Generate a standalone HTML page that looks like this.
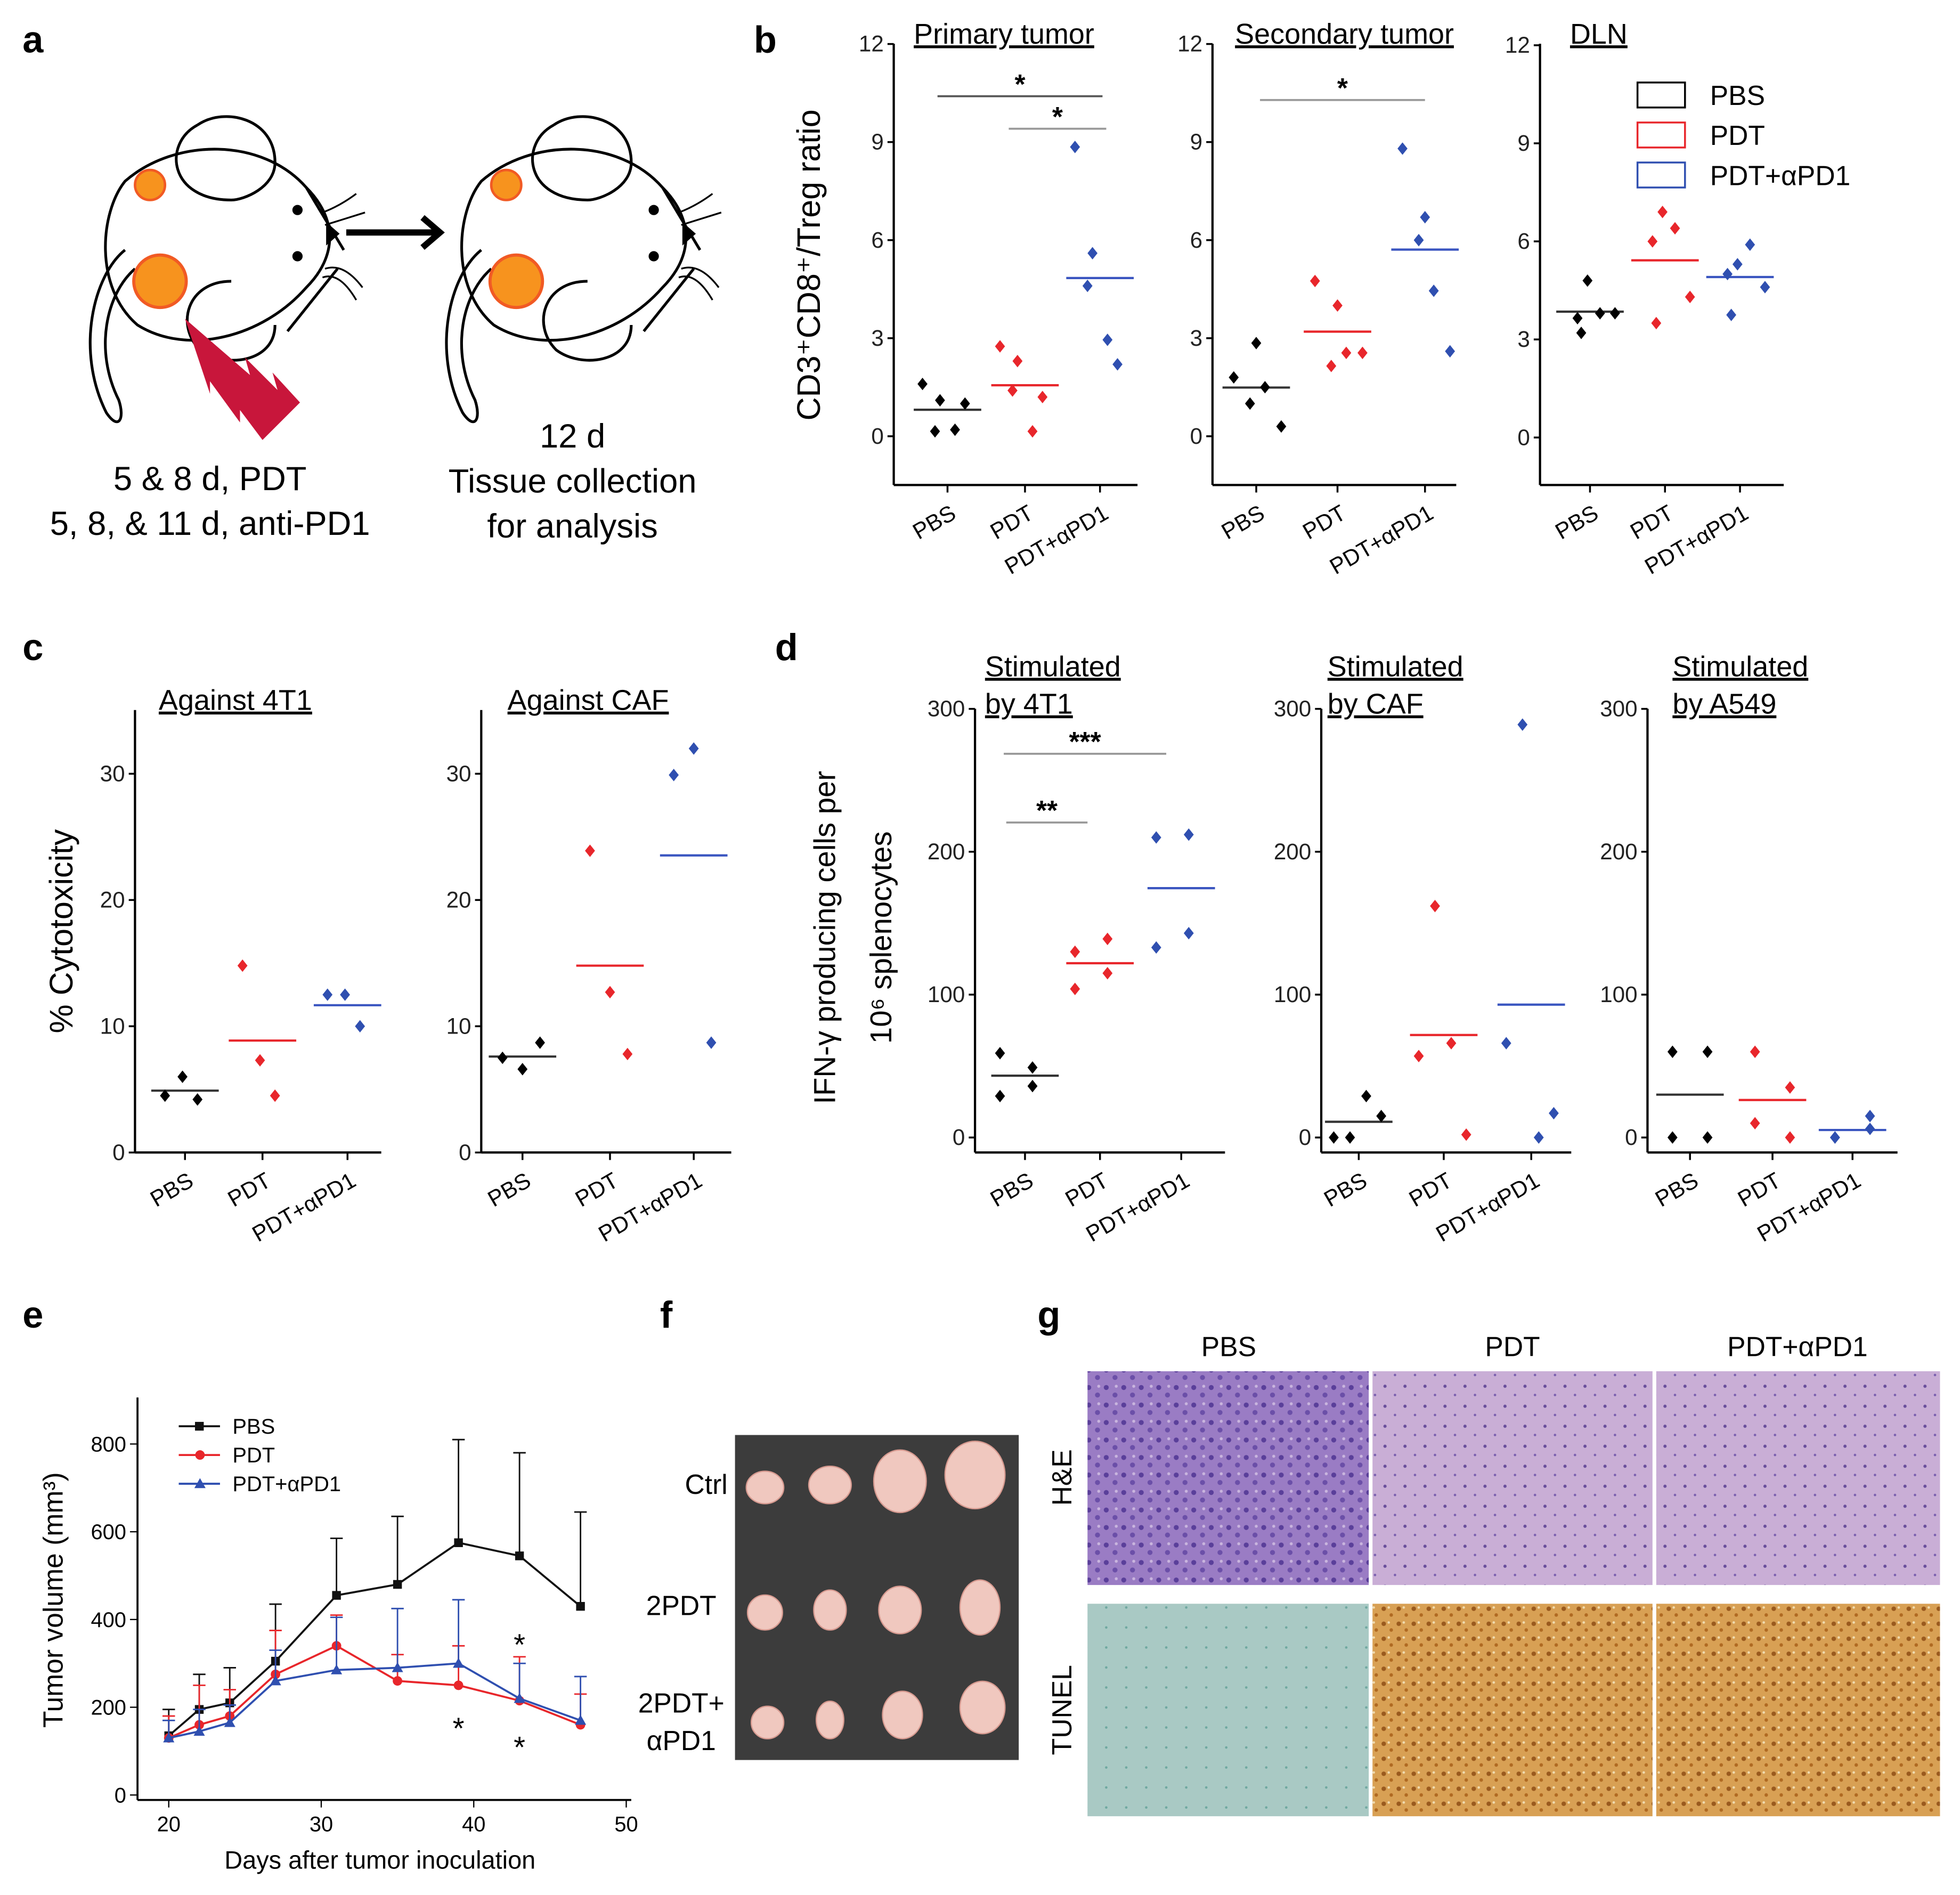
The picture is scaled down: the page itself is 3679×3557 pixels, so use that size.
<!DOCTYPE html>
<html><head><meta charset="utf-8">
<style>
html,body{margin:0;padding:0;background:#fff;}
svg{display:block;font-family:"Liberation Sans",Arial,sans-serif;}
</style></head>
<body>
<svg id="fig" width="3679" height="3557" viewBox="0 0 1568 1516" xmlns="http://www.w3.org/2000/svg">
<defs>
<pattern id="he1" width="14" height="14" patternUnits="userSpaceOnUse"><rect width="14" height="14" fill="#9a7cc4"/><circle cx="3" cy="4" r="2" fill="#5a3f9a"/><circle cx="10" cy="10" r="2" fill="#6b4fa8"/><circle cx="11" cy="3" r="1.2" fill="#c9b5de"/></pattern>
<pattern id="he2" width="16" height="16" patternUnits="userSpaceOnUse"><rect width="16" height="16" fill="#c9aed6"/><circle cx="4" cy="5" r="1.3" fill="#6a4f9c"/><circle cx="12" cy="12" r="1" fill="#7a5fae"/></pattern>
<pattern id="tu1" width="16" height="16" patternUnits="userSpaceOnUse"><rect width="16" height="16" fill="#a9c9c4"/><circle cx="5" cy="6" r="1" fill="#6fa8a0"/></pattern>
<pattern id="tu2" width="12" height="12" patternUnits="userSpaceOnUse"><rect width="12" height="12" fill="#d8a054"/><circle cx="3" cy="3" r="1.8" fill="#9a5a1e"/><circle cx="9" cy="8" r="1.4" fill="#b06a22"/><circle cx="7" cy="2" r="1" fill="#f1dcb0"/></pattern>
</defs>

<!-- Panel letters -->
<g font-weight="bold" font-size="30">
<text x="18" y="42">a</text>
<text x="603" y="42">b</text>
<text x="18" y="528">c</text>
<text x="620" y="528">d</text>
<text x="18" y="1062">e</text>
<text x="528" y="1062">f</text>
<text x="830" y="1062">g</text>
</g>

<!-- Panel a schematic -->
<g id="panelA" fill="none" stroke="#000" stroke-width="2.2">
</g>
<g font-size="27" text-anchor="middle">
<text x="168" y="392">5 &amp; 8 d, PDT</text>
<text x="168" y="428">5, 8, &amp; 11 d, anti-PD1</text>
<text x="458" y="358">12 d</text>
<text x="458" y="394">Tissue collection</text>
<text x="458" y="430">for analysis</text>
</g>

<g id="charts"></g>

<!-- Panel f photo -->
<g>
<text x="565" y="1195" font-size="22" text-anchor="middle">Ctrl</text>
<text x="545" y="1292" font-size="22" text-anchor="middle">2PDT</text>
<text x="545" y="1370" font-size="22" text-anchor="middle">2PDT+</text>
<text x="545" y="1400" font-size="22" text-anchor="middle">αPD1</text>
<rect x="588" y="1148" width="227" height="260" fill="#3c3c3c"/>
<g fill="#f0c8bf" stroke="#d79a90" stroke-width="1">
<ellipse cx="612" cy="1190" rx="15" ry="13"/><ellipse cx="664" cy="1188" rx="17" ry="15"/><ellipse cx="720" cy="1185" rx="21" ry="25"/><ellipse cx="780" cy="1180" rx="24" ry="27"/>
<ellipse cx="612" cy="1290" rx="14" ry="14"/><ellipse cx="664" cy="1288" rx="13" ry="16"/><ellipse cx="720" cy="1288" rx="17" ry="19"/><ellipse cx="784" cy="1286" rx="16" ry="22"/>
<ellipse cx="614" cy="1378" rx="13" ry="13"/><ellipse cx="664" cy="1376" rx="11" ry="15"/><ellipse cx="722" cy="1372" rx="16" ry="19"/><ellipse cx="786" cy="1366" rx="18" ry="21"/>
</g></g>

<!-- Panel g histology -->
<g>
<text x="983" y="1085" font-size="22" text-anchor="middle">PBS</text>
<text x="1210" y="1085" font-size="22" text-anchor="middle">PDT</text>
<text x="1438" y="1085" font-size="22" text-anchor="middle">PDT+αPD1</text>
<text transform="translate(857,1182) rotate(-90)" font-size="22" text-anchor="middle">H&amp;E</text>
<text transform="translate(857,1368) rotate(-90)" font-size="22" text-anchor="middle">TUNEL</text>
<rect x="870" y="1097" width="225" height="171" fill="url(#he1)"/>
<rect x="1098" y="1097" width="224" height="171" fill="url(#he2)"/>
<rect x="1325" y="1097" width="227" height="171" fill="url(#he2)"/>
<rect x="870" y="1283" width="225" height="170" fill="url(#tu1)"/>
<rect x="1098" y="1283" width="224" height="170" fill="url(#tu2)"/>
<rect x="1325" y="1283" width="227" height="170" fill="url(#tu2)"/>
</g>
</svg>

<script>
// ---------- Panel b data ----------
const bCats = ["PBS","PDT","PDT+αPD1"];
const bPrimPBS = [1.6,1.1,0.15,0.2,1.0];
const bPrimPDT = [2.75,2.3,1.4,0.15,1.2];
const bPrimAPD = [8.85,5.6,4.6,2.95,2.2];
const bSecPBS = [1.8,2.85,1.0,1.5,0.3];
const bSecPDT = [4.75,4.0,2.15,2.55,2.55];
const bSecAPD = [8.8,6.7,6.0,4.45,2.6];
const bDlnPBS = [4.8,3.65,3.8,3.8,3.2];
const bDlnPDT = [6.9,6.0,6.4,4.3,3.5];
const bDlnAPD = [5.3,5.0,5.9,4.6,3.75];
const bTicks = [0,3,6,9,12];
// ---------- Panel c data ----------
const cCats = ["PBS","PDT","PDT+αPD1"];
const c4t1PBS = [4.5,6.0,4.2];
const c4t1PDT = [14.8,7.3,4.5];
const c4t1APD = [12.5,12.5,10.0];
const cCafPBS = [7.5,6.6,8.7];
const cCafPDT = [23.9,12.7,7.8];
const cCafAPD = [29.9,32.0,8.7];
const cTicks = [0,10,20,30];
// ---------- Panel d data ----------
const d4t1PBS = [59,49,29,36];
const d4t1PDT = [104,115,130,139];
const d4t1APD = [210,212,133,143];
const dCafPBS = [0,0,29,15];
const dCafPDT = [57,162,66,2];
const dCafAPD = [66,289,0,17];
const dA549PBS = [60,0,60,0];
const dA549PDT = [60,10,35,0];
const dA549APD = [0,0,15,6];
const dTicks = [0,100,200,300];
// ---------- Panel e data ----------
const eDays = [20,22,24,27,31,35,39,43,47];
const ePBS = [135,195,210,305,455,480,575,545,430];
const ePBSerr = [60,80,80,130,130,155,235,235,215];
const ePDT = [130,160,180,275,340,260,250,215,160];
const ePDTerr = [50,90,60,100,70,60,90,100,70];
const eAPD = [130,145,165,260,285,290,300,220,170];
const eAPDerr = [40,50,40,70,120,135,145,80,100];
const eYTicks = [0,200,400,600,800];
const eXTicks = [20,30,40,50];

const NS="http://www.w3.org/2000/svg";
const root=document.getElementById('charts');
const COLORS=["#000","#e8262b","#2f4fb0"];
const MEANC=["#333","#e8262b","#3a55c0"];
function el(tag,attrs,parent){const e=document.createElementNS(NS,tag);for(const k in attrs)e.setAttribute(k,attrs[k]);(parent||root).appendChild(e);return e;}
function txt(x,y,s,size,anchor,parent,extra){const t=el('text',Object.assign({x:x,y:y,'font-size':size,'text-anchor':anchor||'start'},extra||{}),parent);t.textContent=s;return t;}

function dotPanel(o){
  const g=el('g',{});
  
  
  const ys=v=>o.zeroY-(v-0)*o.ppu;
  el('line',{x1:o.ax,y1:o.top,x2:o.ax,y2:o.bottom,stroke:'#000','stroke-width':1.8},g);
  el('line',{x1:o.ax,y1:o.bottom,x2:o.ax+o.w,y2:o.bottom,stroke:'#000','stroke-width':1.8},g);
  o.ticks.forEach(t=>{
    const y=ys(t);
    el('line',{x1:o.ax-5,y1:y,x2:o.ax,y2:y,stroke:'#000','stroke-width':1.5},g);
    const tl=txt(o.ax-8,y+6,String(t),o.tfs||18,'end',g,{fill:'#222'});
    
    
  });
  o.catX.forEach((cx,i)=>{
    el('line',{x1:cx,y1:o.bottom,x2:cx,y2:o.bottom+6,stroke:'#000','stroke-width':1.5},g);
    const lab=txt(0,0,o.cats[i],18,'end',g,{transform:`translate(${cx+8},${o.bottom+26}) rotate(-30)`});
    
    
    const vals=o.series[i];
    const mean=vals.reduce((a,b)=>a+b,0)/vals.length;
    const ml=el('line',{x1:cx-27,y1:ys(mean),x2:cx+27,y2:ys(mean),stroke:MEANC[i],'stroke-width':1.8},g);
    
    
    vals.forEach((v,j)=>{
      const px=cx+o.jit[j],py=ys(v);
      const p=el('path',{d:`M${px},${py-5}L${px+4},${py}L${px},${py+5}L${px-4},${py}Z`,fill:COLORS[i]},g);
      
      
    });
  });
  if(o.title){o.title.forEach((s,k)=>{const t=txt(o.titleX,o.titleY+k*30,s,23,'start',g,{'text-decoration':'underline'});});}
  (o.sig||[]).forEach(s=>{
    el('line',{x1:s[0],y1:s[2],x2:s[1],y2:s[2],stroke:s[4]||'#777','stroke-width':1.6},g);
    txt((s[0]+s[1])/2,s[2]-2,s[3],22,'middle',g,{'font-weight':'bold'});
  });
  return g;
}
const jit5=[-20,-6,-10,6,14];
// b
dotPanel({name:'chart-b-primary',ax:715,top:35,bottom:388,w:195,zeroY:349,ppu:26.15,ticks:bTicks,cats:bCats,catX:[758,820,880],jit:jit5,series:[bPrimPBS,bPrimPDT,bPrimAPD],title:['Primary tumor'],titleX:731,titleY:35,sig:[[750,882,77,'*','#555'],[807,885,103,'*','#999']]});
dotPanel({name:'chart-b-secondary',ax:970,top:35,bottom:388,w:195,zeroY:349,ppu:26.15,ticks:bTicks,cats:bCats,catX:[1005,1070,1140],jit:[-18,0,-5,7,20],series:[bSecPBS,bSecPDT,bSecAPD],title:['Secondary tumor'],titleX:988,titleY:35,sig:[[1008,1140,80,'*','#999']]});
dotPanel({name:'chart-b-dln',ax:1232,top:35,bottom:388,w:195,zeroY:350,ppu:26.15,ticks:bTicks,cats:bCats,catX:[1272,1332,1392],jit:[-2,-10,8,20,-7],series:[bDlnPBS,bDlnPDT,bDlnAPD],title:['DLN'],titleX:1256,titleY:35});
// legend b
const lg=el('g',{});


["PBS","PDT","PDT+αPD1"].forEach((s,i)=>{
  const y=66+i*32;
  const r=el('rect',{x:1310,y:y,width:38,height:20,fill:'none',stroke:COLORS[i],'stroke-width':1.5},lg);
  
  
  const t=txt(1368,y+18,s,22,'start',lg);
  
  
});
const yb=txt(0,0,'CD3⁺CD8⁺/Treg ratio',26,'middle',root,{transform:'translate(656,212) rotate(-90)'});


// c
dotPanel({name:'chart-c-4t1',ax:108,top:568,bottom:922,w:197,zeroY:922,ppu:10.1,ticks:cTicks,cats:cCats,catX:[148,210,278],jit:[-16,-2,10],series:[c4t1PBS,c4t1PDT,c4t1APD],title:['Against 4T1'],titleX:127,titleY:568});
dotPanel({name:'chart-c-caf',ax:385,top:568,bottom:922,w:200,zeroY:922,ppu:10.1,ticks:cTicks,cats:cCats,catX:[418,488,555],jit:[-16,0,14],series:[cCafPBS,cCafPDT,cCafAPD],title:['Against CAF'],titleX:406,titleY:568});
const yc=txt(0,0,'% Cytotoxicity',26,'middle',root,{transform:'translate(58,745) rotate(-90)'});


// d
const jit4=[-20,-6,6,20];
dotPanel({name:'chart-d-4t1',ax:780,top:567,bottom:922,w:200,zeroY:910,ppu:1.143,ticks:dTicks,cats:cCats,catX:[820,880,945],jit:[-20,6,-20,6],series:[d4t1PBS,d4t1PDT,d4t1APD],title:['Stimulated ','by 4T1'],titleX:788,titleY:541,sig:[[805,870,658,'**','#999'],[803,933,603,'***','#999']]});
dotPanel({name:'chart-d-caf',ax:1057,top:567,bottom:922,w:200,zeroY:910,ppu:1.143,ticks:dTicks,cats:cCats,catX:[1087,1155,1225],jit:[-20,-7,6,18],series:[dCafPBS,dCafPDT,dCafAPD],title:['Stimulated ','by CAF'],titleX:1062,titleY:541});
dotPanel({name:'chart-d-a549',ax:1318,top:567,bottom:922,w:200,zeroY:910,ppu:1.143,ticks:dTicks,cats:cCats,catX:[1352,1418,1482],jit:[-14,-14,14,14],series:[dA549PBS,dA549PDT,dA549APD],title:['Stimulated ','by A549'],titleX:1338,titleY:541});
const yd=txt(0,0,'IFN-γ producing cells per',24,'middle',root,{transform:'translate(668,750) rotate(-90)'});


txt(0,0,'10⁶ splenocytes',24,'middle',root,{transform:'translate(713,750) rotate(-90)'});

// e line chart
(function(){
  const g=el('g',{});
  
  
  const xs=d=>135+(d-20)*12.2, ys=v=>1436-v*0.351;
  el('line',{x1:110,y1:1118,x2:110,y2:1440,stroke:'#000','stroke-width':1.6},g);
  el('line',{x1:110,y1:1440,x2:505,y2:1440,stroke:'#000','stroke-width':1.6},g);
  eYTicks.forEach(t=>{el('line',{x1:104,y1:ys(t),x2:110,y2:ys(t),stroke:'#000'},g);const l=txt(101,ys(t)+6,String(t),17,'end',g);});
  eXTicks.forEach(t=>{el('line',{x1:xs(t),y1:1440,x2:xs(t),y2:1446,stroke:'#000'},g);const l=txt(xs(t),1465,String(t),17,'middle',g);});
  const xt=txt(304,1495,'Days after tumor inoculation',20,'middle',g);
  
  
  const yt=txt(0,0,'Tumor volume (mm³)',22,'middle',g,{transform:'translate(50,1280) rotate(-90)'});
  
  
  const ser=[[ePBS,ePBSerr,'#111','sq','PBS'],[ePDT,ePDTerr,'#e8262b','ci','PDT'],[eAPD,eAPDerr,'#2f4fb0','tr','PDT+αPD1']];
  ser.forEach((s,si)=>{
    const [v,er,c,m,name]=s;
    v.forEach((val,i)=>{el('line',{x1:xs(eDays[i]),y1:ys(val),x2:xs(eDays[i]),y2:ys(val+er[i]),stroke:c,'stroke-width':1.2},g);el('line',{x1:xs(eDays[i])-5,y1:ys(val+er[i]),x2:xs(eDays[i])+5,y2:ys(val+er[i]),stroke:c,'stroke-width':1.2},g);});
    const pl=el('polyline',{points:v.map((val,i)=>xs(eDays[i])+','+ys(val)).join(' '),fill:'none',stroke:c,'stroke-width':1.6},g);
    
    
    v.forEach((val,i)=>{const x=xs(eDays[i]),y=ys(val);let p;
      if(m==='sq')p=el('rect',{x:x-3.5,y:y-3.5,width:7,height:7,fill:c},g);
      else if(m==='ci')p=el('circle',{cx:x,cy:y,r:3.8,fill:c},g);
      else p=el('path',{d:`M${x},${y-4.5}L${x+4.5},${y+3.5}L${x-4.5},${y+3.5}Z`,fill:c},g);
      
      });
    const ly=1141+si*23;
    el('line',{x1:143,y1:ly,x2:176,y2:ly,stroke:c,'stroke-width':1.6},g);
    if(m==='sq')el('rect',{x:156,y:ly-3.5,width:7,height:7,fill:c},g);else if(m==='ci')el('circle',{cx:160,cy:ly,r:3.8,fill:c},g);else el('path',{d:`M160,${ly-4.5}L164.5,${ly+3.5}L155.5,${ly+3.5}Z`,fill:c},g);
    const lt=txt(186,ly+6,name,17,'start',g);
    
    
  });
  txt(xs(39),ys(0)-45,'*',24,'middle',g);
  txt(xs(43),ys(0)-30,'*',24,'middle',g);
  txt(xs(43),ys(0)-112,'*',24,'middle',g);
})();

// panel a mice
(function(){
  const g=document.getElementById('panelA');
  function mouse(ox){
    const p=(d,extra)=>el('path',Object.assign({d:d},extra||{}),g);
    p(`M${ox+30},145 C${ox+10},170 ${ox+5},230 ${ox+40},260 C${ox+80},285 ${ox+140},270 ${ox+175},230 C${ox+200},205 ${ox+200},175 ${ox+175},150 C${ox+140},110 ${ox+70},110 ${ox+30},145 Z`);
    p(`M${ox+88},100 C${ox+110},85 ${ox+150},95 ${ox+150},130 C${ox+150},150 ${ox+125},160 ${ox+115},160 M${ox+88},100 C${ox+60},115 ${ox+65},160 ${ox+115},160`);
    p(`M${ox+115},225 C${ox+80},225 ${ox+70},260 ${ox+90},280 C${ox+110},295 ${ox+150},290 ${ox+150},260`);
    p(`M${ox+30},200 C${ox+5},220 ${ox-10},280 ${ox+15},330 C${ox+25},345 ${ox+30},335 ${ox+25},320 C${ox+5},280 ${ox+15},235 ${ox+38},215`);
    p(`M${ox+175},150 L${ox+205},200 M${ox+200},215 L${ox+160},265`);
    [[ox+188,170,ox+215,155],[ox+190,180,ox+222,170],[ox+190,215,ox+220,230],[ox+188,222,ox+215,240]].forEach(w=>p(`M${w[0]},${w[1]} Q${(w[0]+w[2])/2},${w[1]-5} ${w[2]},${w[3]}`,{'stroke-width':1.4}));
    el('circle',{cx:ox+168,cy:168,r:3,fill:'#000'},g);
    el('circle',{cx:ox+168,cy:205,r:3,fill:'#000'},g);
    el('path',{d:`M${ox+192},180 L${ox+200},187 L${ox+192},194 Z`,fill:'#000'},g);
    el('circle',{cx:ox+50,cy:148,r:12,fill:'#f7931e',stroke:'#f15a24','stroke-width':2},g);
    el('circle',{cx:ox+58,cy:225,r:21,fill:'#f7931e',stroke:'#f15a24','stroke-width':2.5},g);
  }
  mouse(70);
  mouse(355);
  const ar=el('path',{d:'M277,186 L350,186 M338,174 L352,186 L338,198','stroke-width':5},g);
  
  
  const bolt=el('path',{d:'M148,255 L200,300 L196,286 L222,312 L218,298 L240,322 L210,352 L192,328 L192,338 L168,305 L168,315 Z',fill:'#c8163b',stroke:'none'},g);
  
  
})();
</script>
</body></html>
